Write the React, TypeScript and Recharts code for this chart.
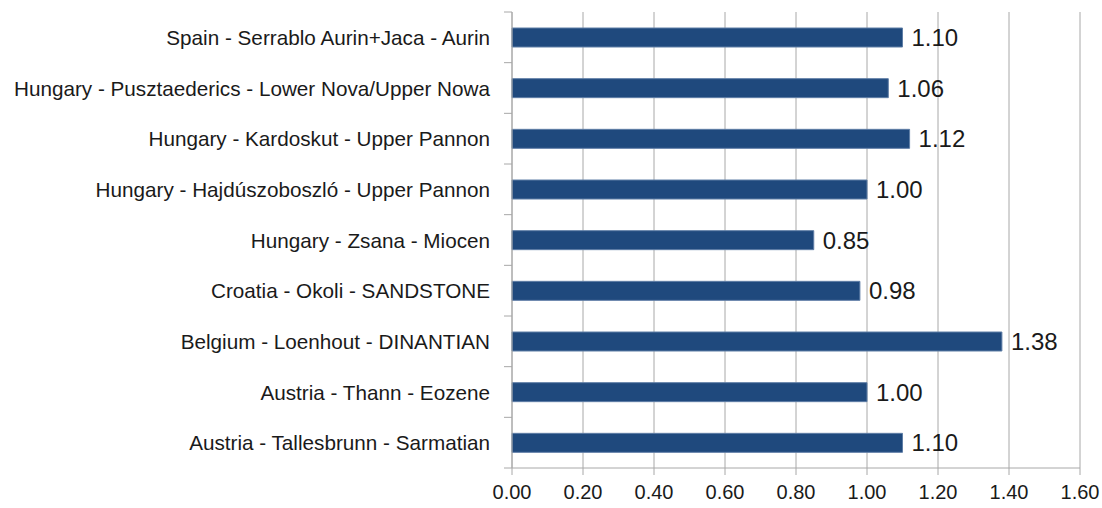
import React from 'react';
import { BarChart, Bar, XAxis, YAxis, CartesianGrid, LabelList } from 'recharts';

const categories = [
  'Spain - Serrablo Aurin+Jaca - Aurin',
  'Hungary - Pusztaederics - Lower Nova/Upper Nowa',
  'Hungary - Kardoskut - Upper Pannon',
  'Hungary - Hajdúszoboszló - Upper Pannon',
  'Hungary - Zsana - Miocen',
  'Croatia - Okoli - SANDSTONE',
  'Belgium - Loenhout - DINANTIAN',
  'Austria - Thann - Eozene',
  'Austria - Tallesbrunn - Sarmatian',
];
const values = [1.1, 1.06, 1.12, 1.0, 0.85, 0.98, 1.38, 1.0, 1.1];
const xTicks = [0, 0.2, 0.4, 0.6, 0.8, 1.0, 1.2, 1.4, 1.6];

const data = categories.map((name, i) => ({ name, value: values[i] }));

const W = 1102;
const H = 508;
const X_AXIS_H = 40;
const M = { top: 12, right: 22, bottom: 0, left: 12 };
const Y_AXIS_W = 500;
const PLOT_LEFT = M.left + Y_AXIS_W;
const BAND = (H - M.top - M.bottom - X_AXIS_H) / categories.length;
const FONT = '"Liberation Sans", Arial, Helvetica, sans-serif';
const GRID = '#a8a8a8';

const YTick = (props: any) => {
  const { y, payload, index } = props;
  const top = y - BAND / 2;
  const bottom = y + BAND / 2;
  return (
    <g>
      <line x1={PLOT_LEFT - 8} x2={PLOT_LEFT} y1={top} y2={top} stroke={GRID} strokeWidth={1} />
      {index === categories.length - 1 && (
        <line x1={PLOT_LEFT - 8} x2={PLOT_LEFT} y1={bottom} y2={bottom} stroke={GRID} strokeWidth={1} />
      )}
      <text
        x={PLOT_LEFT - 22}
        y={y}
        textAnchor="end"
        dominantBaseline="central"
        fontFamily={FONT}
        fontSize={20.7}
        fill="#1a1a1a"
      >
        {payload.value}
      </text>
    </g>
  );
};

export default function App() {
  return (
    <div style={{ position: 'absolute', left: 0, top: 0, width: W, height: H, background: '#fff' }}>
      <BarChart width={W} height={H} data={data} layout="vertical" margin={M}>
        <CartesianGrid horizontal={false} vertical stroke={GRID} strokeWidth={1} />
        <XAxis
          type="number"
          domain={[0, 1.6]}
          ticks={xTicks}
          interval={0}
          height={X_AXIS_H}
          tickFormatter={(v: number) => v.toFixed(2)}
          axisLine={{ stroke: GRID }}
          tickLine={{ stroke: GRID }}
          tickSize={7}
          tickMargin={10}
          tick={{ fontFamily: FONT, fontSize: 20, fill: '#1a1a1a' }}
        />
        <YAxis
          type="category"
          dataKey="name"
          width={Y_AXIS_W}
          interval={0}
          axisLine={{ stroke: GRID }}
          tickLine={false}
          tick={<YTick />}
        />
        <Bar dataKey="value" fill="#1F497D" stroke="#5f7ea6" strokeWidth={1} barSize={19} isAnimationActive={false}>
          <LabelList
            dataKey="value"
            position="right"
            offset={9}
            formatter={(v: number) => v.toFixed(2)}
            style={{ fontFamily: FONT, fontSize: 24, fill: '#1a1a1a' }}
          />
        </Bar>
      </BarChart>
    </div>
  );
}
